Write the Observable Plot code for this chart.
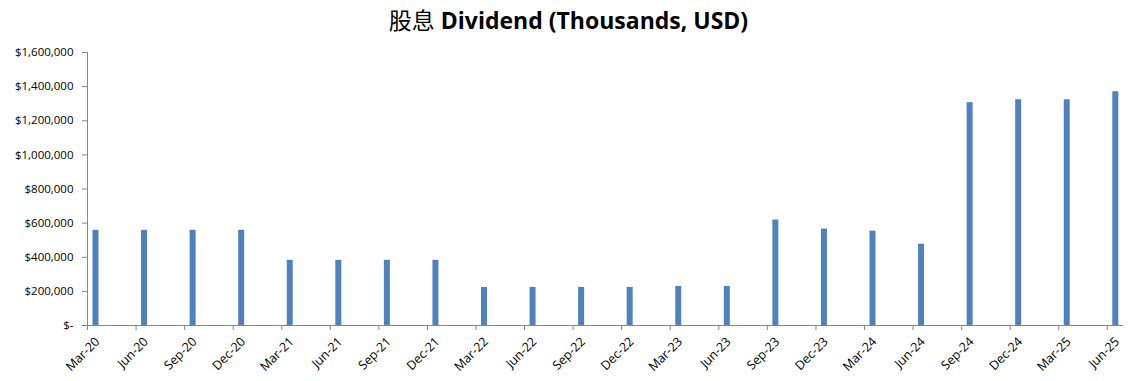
<!DOCTYPE html>
<html>
<head>
<meta charset="utf-8">
<script src="https://cdn.jsdelivr.net/npm/d3@7"></script>
<script src="https://cdn.jsdelivr.net/npm/@observablehq/plot@0.6"></script>
<style>
  html, body { margin: 0; padding: 0; background: #fff; }
  #title {
    height: 40px; width: 1133px; box-sizing: border-box;
    padding-top: 4px; padding-left: 4px; text-align: center;
    font-family: "Open Sans", "Noto Sans CJK SC", sans-serif;
    font-size: 23px; font-weight: bold; color: #000; line-height: 30px;
  }
  #title .cjk { font-family: "Noto Sans CJK TC", sans-serif; font-weight: normal; }
</style>
</head>
<body>
<div id="title"><span class="cjk">股息</span> Dividend (Thousands, USD)</div>
<div id="chart"></div>
<script>
const quarters = ["Mar-20","Jun-20","Sep-20","Dec-20","Mar-21","Jun-21","Sep-21","Dec-21",
  "Mar-22","Jun-22","Sep-22","Dec-22","Mar-23","Jun-23","Sep-23","Dec-23",
  "Mar-24","Jun-24","Sep-24","Dec-24","Mar-25","Jun-25"];
const dividends = [558000, 558000, 558000, 558000, 382000, 382000, 382000, 382000,
  223000, 223000, 223000, 223000, 229000, 229000, 618000, 565000,
  553000, 476000, 1306000, 1323000, 1323000, 1370000];
const yTicks = [0, 200000, 400000, 600000, 800000, 1000000, 1200000, 1400000, 1600000];
const monthsPerQuarter = 3;
const totalMonths = quarters.length * monthsPerQuarter - 2;

const data = quarters.map((q, i) => ({q, m: i * monthsPerQuarter, v: dividends[i]}));
const fmt = d3.format(",");
const yFmt = v => v === 0 ? "$-" : "$" + fmt(v);
const axisColor = "#868686";

const chart = Plot.plot({
  width: 1133,
  height: 341,
  marginLeft: 87,
  marginRight: 10,
  marginTop: 12,
  marginBottom: 56,
  style: {fontFamily: "'Open Sans', sans-serif", fontSize: "11.5px", color: "#000", background: "#fff"},
  x: {type: "linear", domain: [0, totalMonths]},
  y: {domain: [0, 1600000]},
  marks: [
    Plot.rectY(data, {x1: d => d.m + 0.34, x2: d => d.m + 0.71, y: "v", fill: "#4f81bd"}),
    Plot.axisY({ticks: yTicks, tickFormat: yFmt, tickSize: 5, tickPadding: 9, stroke: axisColor, fill: "#000", label: null}),
    Plot.axisX({ticks: data.map(d => d.m), tickFormat: () => "", tickSize: 5, stroke: axisColor, label: null}),
    Plot.text(data, {x: "m", y: () => 0, text: "q", rotate: -45, textAnchor: "end", lineAnchor: "middle", dx: 10, dy: 14, fontSize: 12.5, fill: "#000"}),
    Plot.ruleX([0], {y1: 0, y2: 1600000, stroke: axisColor}),
    Plot.ruleY([0], {x1: 0, x2: totalMonths, stroke: axisColor})
  ]
});
document.getElementById("chart").appendChild(chart);
</script>
</body>
</html>
